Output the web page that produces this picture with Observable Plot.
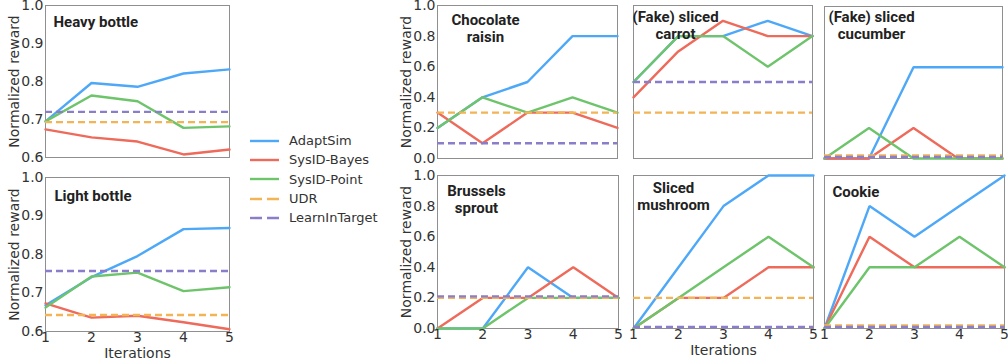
<!DOCTYPE html>
<html>
<head>
<meta charset="utf-8">
<script src="https://cdn.jsdelivr.net/npm/d3@7"></script>
<script src="https://cdn.jsdelivr.net/npm/@observablehq/plot@0.6"></script>
<style>
  html, body { margin: 0; padding: 0; background: #fff; }
  #root { position: relative; width: 1008px; height: 362px; overflow: hidden; }
  #root > svg { position: absolute; }
  .legend { position: absolute; left: 250px; top: 131px; font: 13px "DejaVu Sans", sans-serif; color: #333; }
  .legend .row { display: flex; align-items: center; height: 19.3px; }
  .legend svg { margin-right: 10px; }
</style>
</head>
<body>
<div id="root"></div>
<script>
const iterations = [1, 2, 3, 4, 5];
const methods = ["AdaptSim", "SysID-Bayes", "SysID-Point", "UDR", "LearnInTarget"];
const methodColors = ["#4ea8f8", "#ee6a5a", "#6ec46b", "#f2b455", "#8a7dc9"];

// per panel: AdaptSim, SysID-Bayes, SysID-Point curves; UDR, LearnInTarget baselines
const heavyAdaptSim   = [0.695, 0.796, 0.786, 0.821, 0.832];
const heavyBayes      = [0.674, 0.653, 0.642, 0.608, 0.621];
const heavyPoint      = [0.695, 0.763, 0.748, 0.678, 0.682];
const heavyBaselines  = [0.693, 0.720];

const lightAdaptSim   = [0.668, 0.741, 0.796, 0.866, 0.869];
const lightBayes      = [0.673, 0.636, 0.641, 0.624, 0.606];
const lightPoint      = [0.662, 0.743, 0.753, 0.705, 0.715];
const lightBaselines  = [0.643, 0.757];

const chocAdaptSim    = [0.2, 0.4, 0.5, 0.8, 0.8];
const chocBayes       = [0.3, 0.1, 0.3, 0.3, 0.2];
const chocPoint       = [0.2, 0.4, 0.3, 0.4, 0.3];
const chocBaselines   = [0.3, 0.1];

const carrotAdaptSim  = [0.5, 0.8, 0.8, 0.9, 0.8];
const carrotBayes     = [0.4, 0.7, 0.9, 0.8, 0.8];
const carrotPoint     = [0.5, 0.8, 0.8, 0.6, 0.8];
const carrotBaselines = [0.3, 0.5];

const cucumberAdaptSim  = [0.0, 0.0, 0.6, 0.6, 0.6];
const cucumberBayes     = [0.0, 0.0, 0.2, 0.0, 0.0];
const cucumberPoint     = [0.0, 0.2, 0.0, 0.0, 0.0];
const cucumberBaselines = [0.02, 0.01];

const sproutAdaptSim  = [0.0, 0.0, 0.4, 0.2, 0.2];
const sproutBayes     = [0.0, 0.2, 0.2, 0.4, 0.2];
const sproutPoint     = [0.0, 0.0, 0.2, 0.2, 0.2];
const sproutBaselines = [0.2, 0.21];

const mushroomAdaptSim  = [0.0, 0.4, 0.8, 1.0, 1.0];
const mushroomBayes     = [0.0, 0.2, 0.2, 0.4, 0.4];
const mushroomPoint     = [0.0, 0.2, 0.4, 0.6, 0.4];
const mushroomBaselines = [0.2, 0.01];

const cookieAdaptSim  = [0.0, 0.8, 0.6, 0.8, 1.0];
const cookieBayes     = [0.0, 0.6, 0.4, 0.4, 0.4];
const cookiePoint     = [0.0, 0.4, 0.4, 0.6, 0.4];
const cookieBaselines = [0.02, 0.01];

const bottleTicks = [0.6, 0.7, 0.8, 0.9, 1.0];
const foodTicks = [0.0, 0.2, 0.4, 0.6, 0.8, 1.0];

const panels = [
  {title: "Heavy bottle", curves: [heavyAdaptSim, heavyBayes, heavyPoint], base: heavyBaselines,
   left: 45, top: 5, w: 184, h: 152, yDomain: [0.6, 1.0], yTicks: bottleTicks, yAxis: true, xAxis: false, xLabel: false,
   tx: 8, ty: 9, anchor: "start"},
  {title: "Light bottle", curves: [lightAdaptSim, lightBayes, lightPoint], base: lightBaselines,
   left: 45, top: 177, w: 184, h: 154, yDomain: [0.6, 1.0], yTicks: bottleTicks, yAxis: true, xAxis: true, xLabel: true,
   tx: 9, ty: 11, anchor: "start"},
  {title: "Chocolate\nraisin", curves: [chocAdaptSim, chocBayes, chocPoint], base: chocBaselines,
   left: 437, top: 5, w: 180, h: 153, yDomain: [0, 1], yTicks: foodTicks, yAxis: true, xAxis: false, xLabel: false,
   tx: 48, ty: 7, anchor: "middle"},
  {title: "(Fake) sliced\ncarrot", curves: [carrotAdaptSim, carrotBayes, carrotPoint], base: carrotBaselines,
   left: 633, top: 5, w: 179, h: 153, yDomain: [0, 1], yTicks: foodTicks, yAxis: false, xAxis: false, xLabel: false,
   tx: 42, ty: 4, anchor: "middle"},
  {title: "(Fake) sliced\ncucumber", curves: [cucumberAdaptSim, cucumberBayes, cucumberPoint], base: cucumberBaselines,
   left: 824, top: 6, w: 178, h: 152, yDomain: [0, 1], yTicks: foodTicks, yAxis: false, xAxis: false, xLabel: false,
   tx: 47, ty: 3, anchor: "middle"},
  {title: "Brussels\nsprout", curves: [sproutAdaptSim, sproutBayes, sproutPoint], base: sproutBaselines,
   left: 437, top: 175, w: 181, h: 153, yDomain: [0, 1], yTicks: foodTicks, yAxis: true, xAxis: true, xLabel: false,
   tx: 39, ty: 8, anchor: "middle"},
  {title: "Sliced\nmushroom", curves: [mushroomAdaptSim, mushroomBayes, mushroomPoint], base: mushroomBaselines,
   left: 633, top: 175, w: 180, h: 153, yDomain: [0, 1], yTicks: foodTicks, yAxis: false, xAxis: true, xLabel: true,
   tx: 40, ty: 5, anchor: "middle"},
  {title: "Cookie", curves: [cookieAdaptSim, cookieBayes, cookiePoint], base: cookieBaselines,
   left: 824, top: 175, w: 180, h: 153, yDomain: [0, 1], yTicks: foodTicks, yAxis: false, xAxis: true, xLabel: false,
   tx: 8, ty: 9, anchor: "start"}
];

const root = document.getElementById("root");
const ml = 50, mr = 6, mt = 6, mb = 34;

for (const p of panels) {
  const rows = [];
  p.curves.forEach((vals, k) => vals.forEach((v, i) => rows.push({method: methods[k], x: iterations[i], y: v})));
  const baseRows = p.base.map((v, k) => ({method: methods[3 + k], y: v}));
  const marks = [
    Plot.frame({stroke: "#8f8f8f", strokeWidth: 1}),
    Plot.line(rows, {x: "x", y: "y", z: "method", stroke: "method", strokeWidth: 2.4, strokeLinejoin: "miter"}),
    Plot.ruleY(baseRows, {y: "y", stroke: "method", strokeWidth: 2.4, strokeDasharray: "7,4"}),
    Plot.text([p.title], {text: d => d, frameAnchor: "top-left", dx: p.tx, dy: p.ty, textAnchor: p.anchor,
      lineAnchor: "top", lineHeight: 1.15, fontFamily: "Roboto", fontWeight: "bold", fontSize: 15, fill: "#222"})
  ];
  if (p.yAxis) marks.push(Plot.axisY({ticks: p.yTicks, tickFormat: d3.format(".1f"), tickSize: 0, tickPadding: 2,
    fontSize: 14, label: "Normalized reward", labelAnchor: "center", labelArrow: "none", labelOffset: 36, fill: "#333"}));
  if (p.xAxis) marks.push(Plot.axisX({ticks: iterations, tickFormat: d => d, tickSize: 0, tickPadding: 1,
    fontSize: 14, label: p.xLabel ? "Iterations" : null, labelAnchor: "center", labelArrow: "none", labelOffset: 26, fill: "#333"}));
  const svg = Plot.plot({
    width: p.w + ml + mr, height: p.h + mt + mb,
    marginLeft: ml, marginRight: mr, marginTop: mt, marginBottom: mb,
    style: {fontFamily: "DejaVu Sans", fontSize: "13px", color: "#333", background: "transparent", overflow: "visible"},
    x: {domain: [1, 5], axis: null},
    y: {domain: p.yDomain, axis: null},
    color: {domain: methods, range: methodColors},
    marks
  });
  svg.style.left = (p.left - ml) + "px";
  svg.style.top = (p.top - mt) + "px";
  root.appendChild(svg);
}

// legend
const legend = document.createElement("div");
legend.className = "legend";
methods.forEach((m, i) => {
  const row = document.createElement("div");
  row.className = "row";
  const dashed = i >= 3;
  row.innerHTML = `<svg width="29" height="6"><line x1="0" x2="29" y1="3" y2="3" stroke="${methodColors[i]}" stroke-width="2.4" ${dashed ? 'stroke-dasharray="12,5"' : ''}/></svg><span>${m}</span>`;
  legend.appendChild(row);
});
root.appendChild(legend);
</script>
</body>
</html>
